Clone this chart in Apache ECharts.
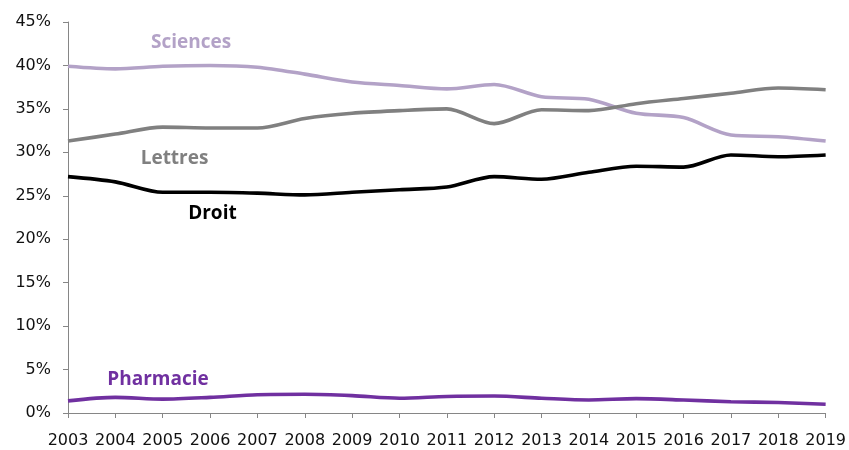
<!DOCTYPE html>
<html>
<head>
<meta charset="utf-8">
<script src="https://cdn.jsdelivr.net/npm/echarts@6/dist/echarts.min.js"></script>
<style>
  html, body { margin: 0; padding: 0; background: #fff; }
  #chart { width: 849px; height: 450px; }
</style>
</head>
<body>
<div id="chart"></div>
<script>
// Share of students by faculty, 2003-2019 (in %).
const years = [2003, 2004, 2005, 2006, 2007, 2008, 2009, 2010, 2011, 2012, 2013, 2014, 2015, 2016, 2017, 2018, 2019];
const sciences  = [39.9, 39.6, 39.9, 40.0, 39.8, 39.0, 38.1, 37.7, 37.3, 37.8, 36.4, 36.1, 34.5, 34.0, 32.0, 31.8, 31.3];
const lettres   = [31.3, 32.1, 32.9, 32.8, 32.8, 33.9, 34.5, 34.8, 35.0, 33.3, 34.9, 34.8, 35.6, 36.2, 36.8, 37.4, 37.2];
const droit     = [27.2, 26.6, 25.4, 25.4, 25.3, 25.1, 25.4, 25.7, 26.0, 27.2, 26.9, 27.7, 28.4, 28.3, 29.7, 29.5, 29.7];
const pharmacie = [1.4, 1.8, 1.6, 1.8, 2.1, 2.15, 2.0, 1.7, 1.9, 1.95, 1.7, 1.5, 1.65, 1.5, 1.3, 1.2, 1.0];

const names  = ["Sciences", "Lettres", "Droit", "Pharmacie"];
const colors = ["#b3a2c7", "#808080", "#000000", "#7030a0"];
// where each series name sits, in data units [year, %]
const labelAt = [[2005.6, 42.6], [2005.25, 29.3], [2006.05, 23.0], [2004.9, 3.8]];

const values = [sciences, lettres, droit, pharmacie];
const axisFont = "'DejaVu Sans', sans-serif";
const labelFont = "'Open Sans', sans-serif";

const chart = echarts.init(document.getElementById("chart"));
chart.setOption({
  animation: false,
  grid: { left: 68, right: 20, top: 22, bottom: 37 },
  xAxis: {
    type: "value",
    min: 2003, max: 2019, interval: 1,
    axisLine: { lineStyle: { color: "#868686", width: 1 } },
    axisTick: { show: true, length: 5, lineStyle: { color: "#868686" } },
    axisLabel: { color: "#111", fontFamily: axisFont, fontSize: 16, margin: 20, formatter: (v) => String(v) },
    splitLine: { show: false },
  },
  yAxis: {
    type: "value",
    min: 0, max: 45, interval: 5,
    axisLine: { show: true, lineStyle: { color: "#868686", width: 1 } },
    axisTick: { show: true, length: 5, lineStyle: { color: "#868686" } },
    axisLabel: { color: "#111", fontFamily: axisFont, fontSize: 16, margin: 17, formatter: "{value}%" },
    splitLine: { show: false },
  },
  series: names.map((name, i) => ({
    type: "line",
    name,
    smooth: 0.3,
    showSymbol: false,
    color: colors[i],
    lineStyle: { width: 3.6, color: colors[i] },
    data: years.map((y, j) => [y, values[i][j]]),
    markPoint: {
      symbol: "circle",
      symbolSize: 0,
      silent: true,
      data: [{ coord: labelAt[i] }],
      label: {
        show: true,
        position: "inside",
        formatter: name,
        color: colors[i],
        fontFamily: labelFont,
        fontWeight: "bold",
        fontSize: 19,
      },
    },
  })),
});
</script>
</body>
</html>
